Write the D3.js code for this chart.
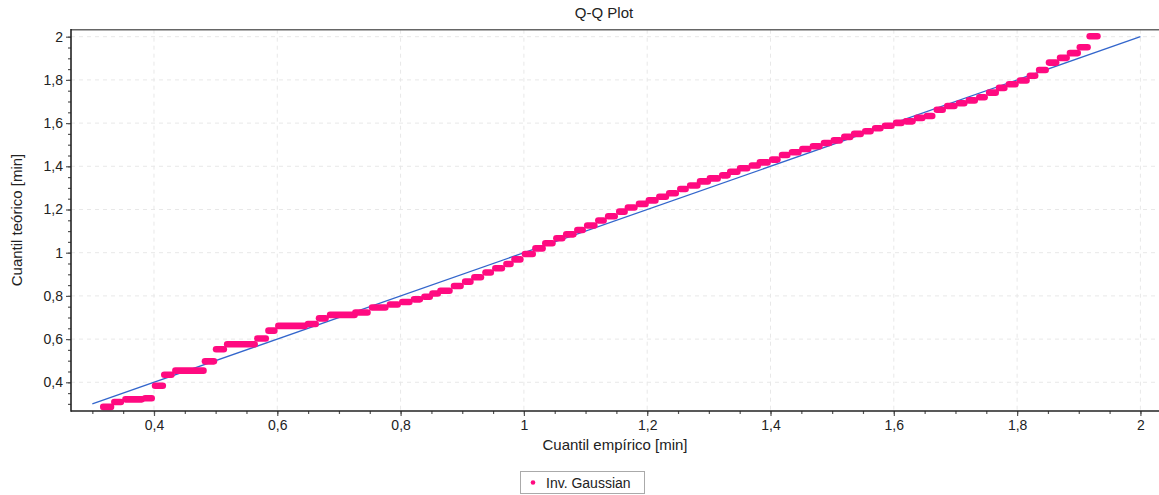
<!DOCTYPE html>
<html>
<head>
<meta charset="utf-8">
<script src="https://cdn.jsdelivr.net/npm/d3@7/dist/d3.min.js"></script>
<style>
  html, body { margin: 0; padding: 0; background: #fff; overflow: hidden; }
  svg { display: block; font-family: "Liberation Sans", Arial, sans-serif; }
</style>
</head>
<body>
<svg id="chart" width="1159" height="495"></svg>
<script>
// ---- data ----
const title = "Q-Q Plot";
const xAxisTitle = "Cuantil empírico [min]";
const yAxisTitle = "Cuantil teórico [min]";
const seriesName = "Inv. Gaussian";

// Each horizontal run of points: empirical start, empirical end, theoretical level
const xStart = [0.314,0.332,0.350,0.382,0.398,0.413,0.431,0.479,0.497,0.515,0.564,0.582,0.598,0.646,0.664,0.682,0.723,0.750,0.779,0.799,0.818,0.835,0.848,0.861,0.883,0.901,0.916,0.934,0.950,0.968,0.981,0.998,1.015,1.031,1.049,1.065,1.083,1.099,1.117,1.133,1.151,1.165,1.183,1.199,1.216,1.232,1.250,1.266,1.282,1.298,1.318,1.331,1.347,1.366,1.379,1.399,1.415,1.431,1.448,1.465,1.483,1.499,1.516,1.532,1.550,1.566,1.582,1.600,1.616,1.634,1.650,1.666,1.683,1.702,1.718,1.735,1.751,1.767,1.783,1.801,1.817,1.832,1.848,1.866,1.882,1.898,1.914];
const xEnd   = [0.334,0.350,0.384,0.400,0.418,0.432,0.484,0.501,0.517,0.567,0.585,0.599,0.648,0.666,0.682,0.729,0.750,0.779,0.799,0.818,0.835,0.851,0.864,0.883,0.901,0.917,0.934,0.950,0.968,0.982,0.998,1.018,1.034,1.050,1.066,1.084,1.099,1.118,1.133,1.151,1.167,1.183,1.201,1.217,1.234,1.250,1.266,1.285,1.302,1.318,1.334,1.350,1.366,1.383,1.399,1.415,1.431,1.449,1.465,1.483,1.499,1.516,1.533,1.550,1.566,1.582,1.600,1.616,1.634,1.650,1.666,1.683,1.702,1.718,1.735,1.751,1.769,1.783,1.801,1.819,1.833,1.850,1.867,1.884,1.902,1.918,1.934];
const yLevel = [0.286,0.309,0.321,0.326,0.384,0.435,0.454,0.497,0.553,0.576,0.603,0.639,0.661,0.670,0.696,0.712,0.723,0.746,0.760,0.772,0.784,0.796,0.811,0.824,0.846,0.866,0.886,0.908,0.928,0.948,0.969,0.994,1.020,1.044,1.067,1.085,1.105,1.126,1.149,1.169,1.190,1.209,1.226,1.242,1.259,1.275,1.295,1.311,1.330,1.344,1.358,1.375,1.391,1.404,1.418,1.431,1.452,1.465,1.480,1.493,1.508,1.520,1.536,1.550,1.562,1.576,1.588,1.601,1.608,1.624,1.633,1.662,1.679,1.692,1.705,1.720,1.741,1.763,1.780,1.797,1.819,1.846,1.880,1.902,1.924,1.951,2.002];

// Reference line y = x
const refX = [0.3, 2.0];
const refY = [0.3, 2.0];

const xTickValues = [0.4, 0.6, 0.8, 1.0, 1.2, 1.4, 1.6, 1.8, 2.0];
const yTickValues = [0.4, 0.6, 0.8, 1.0, 1.2, 1.4, 1.6, 1.8, 2.0];
const xDomain = [0.2654, 2.035];
const yDomain = [0.2671, 2.0324];

// ---- layout ----
const plot = { left: 71, right: 1162, top: 29.7, bottom: 411 };
const pink = "#ff0a80";
const blue = "#3366cc";

const svg = d3.select("#chart");
const x = d3.scaleLinear().domain(xDomain).range([plot.left, plot.right]);
const y = d3.scaleLinear().domain(yDomain).range([plot.bottom, plot.top]);

const loc = d3.formatLocale({ decimal: ",", thousands: ".", grouping: [3], currency: ["", ""] });
const fmt = loc.format(".1~f");

// grid
const grid = svg.append("g");
grid.selectAll("line.gx").data(xTickValues).join("line")
  .attr("x1", d => x(d)).attr("x2", d => x(d))
  .attr("y1", plot.top).attr("y2", plot.bottom)
  .attr("stroke", "#e8e8e8").attr("stroke-width", 1).attr("stroke-dasharray", "4,4");
grid.selectAll("line.gy").data(yTickValues).join("line")
  .attr("x1", plot.left).attr("x2", plot.right)
  .attr("y1", d => y(d)).attr("y2", d => y(d))
  .attr("stroke", "#e8e8e8").attr("stroke-width", 1).attr("stroke-dasharray", "4,4");

// minor ticks every 0.05
const xMinor = d3.range(0.3, 2.001, 0.05).map(v => +v.toFixed(2));
const yMinor = d3.range(0.3, 2.001, 0.05).map(v => +v.toFixed(2));

const xAxis = d3.axisBottom(x).tickValues(xTickValues).tickFormat(fmt).tickSize(5).tickPadding(4);
const xAxisMinor = d3.axisBottom(x).tickValues(xMinor).tickFormat("").tickSize(3);
const yAxis = d3.axisLeft(y).tickValues(yTickValues).tickFormat(fmt).tickSize(5).tickPadding(3);
const yAxisMinor = d3.axisLeft(y).tickValues(yMinor).tickFormat("").tickSize(3);

function styleAxis(g) {
  g.select(".domain").remove();
  g.selectAll(".tick line").attr("stroke", "#555").attr("stroke-width", 1.2);
  g.selectAll(".tick text").attr("fill", "#222").style("font-size", "14px")
    .style("font-family", '"Liberation Sans", Arial, sans-serif');
}
svg.append("g").attr("transform", `translate(0,${plot.bottom})`).call(xAxisMinor).call(styleAxis);
svg.append("g").attr("transform", `translate(0,${plot.bottom})`).call(xAxis).call(styleAxis);
svg.append("g").attr("transform", `translate(${plot.left},0)`).call(yAxisMinor).call(styleAxis);
svg.append("g").attr("transform", `translate(${plot.left},0)`).call(yAxis).call(styleAxis);

// reference line
svg.append("line")
  .attr("x1", x(refX[0])).attr("y1", y(refY[0]))
  .attr("x2", x(refX[1])).attr("y2", y(refY[1]))
  .attr("stroke", blue).attr("stroke-width", 1.3);

// point runs (each run drawn as a chain of round markers, radius ~3.2px)
const runs = xStart.map((s, i) => ({ s, e: xEnd[i], v: yLevel[i] }));
const h = 6.6;
const pad = 1;
svg.append("g").selectAll("rect").data(runs).join("rect")
  .attr("x", d => x(d.s) - pad).attr("width", d => Math.max(h, x(d.e) - x(d.s) + 2 * pad))
  .attr("y", d => y(d.v) - h / 2).attr("height", h)
  .attr("rx", h / 2).attr("ry", h / 2)
  .attr("fill", pink);

// frame
svg.append("line").attr("x1", plot.left).attr("x2", plot.right)
  .attr("y1", plot.top).attr("y2", plot.top)
  .attr("stroke", "#666").attr("stroke-width", 1.6);
svg.append("line").attr("x1", plot.left).attr("x2", plot.left)
  .attr("y1", plot.top - 0.8).attr("y2", plot.bottom + 0.8)
  .attr("stroke", "#222").attr("stroke-width", 1.6);
svg.append("line").attr("x1", plot.left).attr("x2", plot.right)
  .attr("y1", plot.bottom).attr("y2", plot.bottom)
  .attr("stroke", "#222").attr("stroke-width", 1.6);

// titles
svg.append("text").attr("x", 604).attr("y", 18).attr("text-anchor", "middle")
  .attr("fill", "#222").style("font-size", "15px").text(title);
svg.append("text").attr("x", 615).attr("y", 450).attr("text-anchor", "middle")
  .attr("fill", "#222").style("font-size", "15px").text(xAxisTitle);
svg.append("text").attr("transform", "translate(22,220) rotate(-90)").attr("text-anchor", "middle")
  .attr("fill", "#222").style("font-size", "15px").text(yAxisTitle);

// legend
const lg = svg.append("g");
lg.append("rect").attr("x", 520.5).attr("y", 471.5).attr("width", 124).attr("height", 22)
  .attr("fill", "#fff").attr("stroke", "#aaa").attr("stroke-width", 1);
lg.append("circle").attr("cx", 533).attr("cy", 482.5).attr("r", 2.3).attr("fill", pink);
lg.append("text").attr("x", 546).attr("y", 488).attr("fill", "#222")
  .style("font-size", "14px").text(seriesName);
</script>
</body>
</html>
